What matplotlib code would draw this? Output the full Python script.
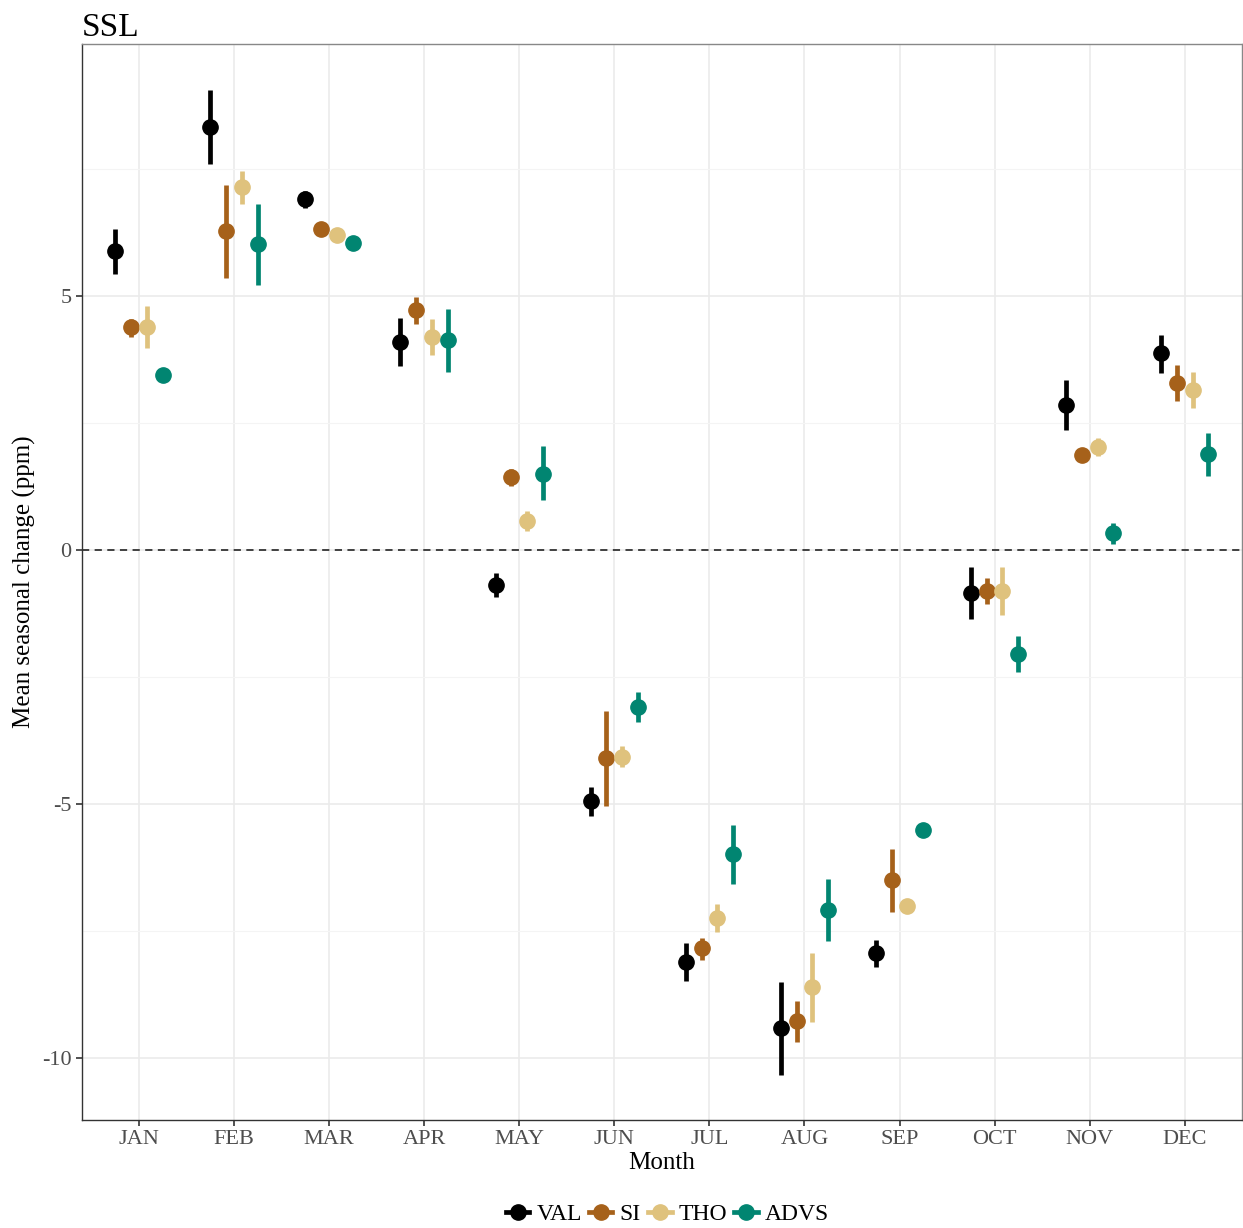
import numpy as np
import matplotlib.pyplot as plt

plt.rcParams['font.family'] = ['Liberation Serif', 'DejaVu Serif']
plt.rcParams['axes.unicode_minus'] = False

months = ["JAN", "FEB", "MAR", "APR", "MAY", "JUN", "JUL", "AUG", "SEP", "OCT", "NOV", "DEC"]
series = ["VAL", "SI", "THO", "ADVS"]
colors = ["#000000", "#A6611A", "#DFC27D", "#018571"]

# mean seasonal change per month
val_mean = [5.89, 8.33, 6.91, 4.09, -0.69, -4.94, -8.11, -9.41, -7.93, -0.85, 2.85, 3.88]
si_mean = [4.39, 6.28, 6.32, 4.72, 1.44, -4.09, -7.83, -9.27, -6.50, -0.81, 1.87, 3.29]
tho_mean = [4.39, 7.15, 6.20, 4.19, 0.57, -4.07, -7.24, -8.60, -7.01, -0.81, 2.03, 3.15]
advs_mean = [3.44, 6.02, 6.04, 4.13, 1.50, -3.09, -5.98, -7.09, -5.51, -2.05, 0.33, 1.89]

# lower / upper bounds of the intervals
val_lo = [5.43, 7.60, 6.73, 3.62, -0.93, -5.24, -8.48, -10.33, -8.21, -1.36, 2.36, 3.48]
val_hi = [6.32, 9.06, 7.07, 4.57, -0.45, -4.67, -7.74, -8.50, -7.68, -0.33, 3.35, 4.23]
si_lo = [4.19, 5.35, 6.25, 4.45, 1.26, -5.04, -8.07, -9.69, -7.13, -1.06, 1.73, 2.93]
si_hi = [4.55, 7.19, 6.38, 4.98, 1.59, -3.17, -7.64, -8.88, -5.89, -0.55, 2.01, 3.64]
tho_lo = [3.98, 6.81, 6.14, 3.84, 0.37, -4.27, -7.52, -9.29, -7.07, -1.28, 1.85, 2.80]
tho_hi = [4.80, 7.46, 6.26, 4.55, 0.77, -3.86, -6.97, -7.93, -6.95, -0.33, 2.20, 3.50]
advs_lo = [3.40, 5.22, 5.98, 3.50, 0.98, -3.39, -6.57, -7.70, -5.63, -2.40, 0.12, 1.46]
advs_hi = [3.48, 6.81, 6.10, 4.74, 2.05, -2.80, -5.41, -6.48, -5.39, -1.69, 0.53, 2.30]

means = [val_mean, si_mean, tho_mean, advs_mean]
lows = [val_lo, si_lo, tho_lo, advs_lo]
highs = [val_hi, si_hi, tho_hi, advs_hi]

fig = plt.figure(figsize=(12.43, 12.28), dpi=100)
ax = fig.add_axes([0.066, 0.088, 0.933, 0.876])

x = np.arange(1, len(months) + 1)
dodge = [-0.25, -0.083, 0.083, 0.25]

handles = []
for k in range(len(series)):
    xs = x + dodge[k]
    m = np.array(means[k])
    lo = np.array(lows[k])
    hi = np.array(highs[k])
    ax.vlines(xs, lo, hi, color=colors[k], lw=3.4, zorder=3)
    ax.plot(xs, m, 'o', color=colors[k], ms=11, zorder=4)
    h, = ax.plot([], [], '-o', color=colors[k], lw=3.4, ms=11, label=series[k])
    handles.append(h)

ax.axhline(0, color='#333333', ls=(0, (4, 3)), lw=1.3, zorder=2)

ax.set_xlim(0.4, 12.6)
ax.set_ylim(-11.22, 9.96)
ax.set_xticks(x)
ax.set_xticklabels(months)
ax.set_yticks([-10, -5, 0, 5])
ax.set_yticks([-7.5, -2.5, 2.5, 7.5], minor=True)
ax.set_xticks([], minor=True)
ax.grid(True, which='major', color='#EBEBEB', lw=1.2, zorder=0)
ax.grid(True, which='minor', axis='y', color='#F4F4F4', lw=0.8, zorder=0)
ax.set_axisbelow(True)
for s in ax.spines.values():
    s.set_color('#333333')
    s.set_linewidth(1.0)
ax.spines['top'].set_color('#888888')
ax.spines['right'].set_color('#888888')
ax.tick_params(axis='both', which='major', length=4, width=1.2, color='#333333',
               labelsize=16, labelcolor='#4D4D4D')
ax.tick_params(axis='y', which='minor', length=0)

ax.set_xlabel("Month", fontsize=18, labelpad=2)
ax.set_ylabel("Mean seasonal change (ppm)", fontsize=18, labelpad=4)
ax.set_title("SSL", loc='left', fontsize=24, pad=6)

fig.legend(handles=handles, loc='center', bbox_to_anchor=(0.537, 0.011), ncol=4,
           frameon=False, fontsize=17, handlelength=1.0, handletextpad=0.3,
           columnspacing=0.3, borderaxespad=0)

fig.savefig("out.png", dpi=100)
